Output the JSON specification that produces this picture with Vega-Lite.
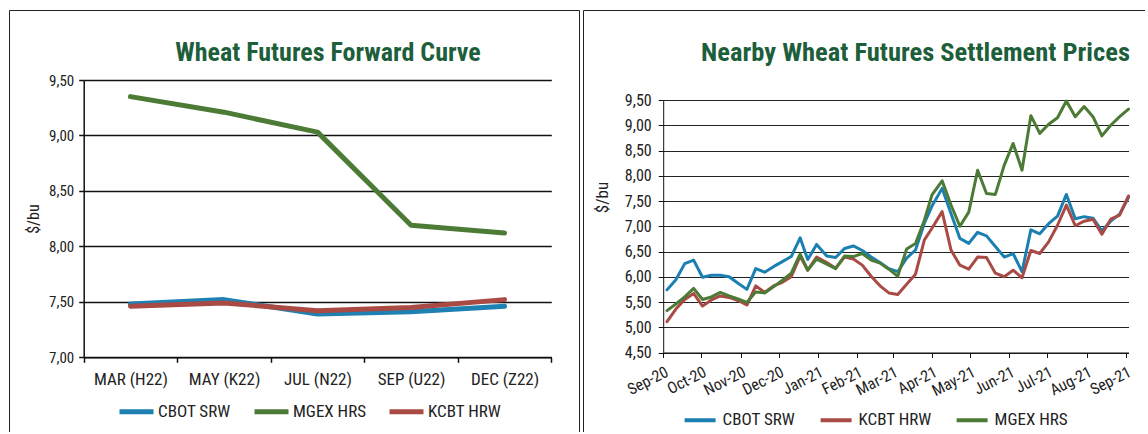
{
  "$schema": "https://vega.github.io/schema/vega-lite/v6.json",
  "padding": {"left": 8, "top": 9, "right": -14, "bottom": -9},
  "background": "white",
  "spacing": 2,
  "config": {
    "font": "Roboto Condensed, Liberation Sans Narrow, DejaVu Sans Condensed, Roboto, sans-serif",
    "view": {"stroke": "#222", "strokeWidth": 1},
    "axis": {"domainColor": "#111", "tickColor": "#111", "gridColor": "#111", "labelColor": "#222", "titleColor": "#222", "titleFontWeight": "normal"},
    "legend": {"labelColor": "#222", "padding": 0}
  },
  "datasets": {
    "curve": [
      {"contract": "MAR (H22)", "series": "CBOT SRW", "price": 7.48},
      {"contract": "MAY (K22)", "series": "CBOT SRW", "price": 7.52},
      {"contract": "JUL (N22)", "series": "CBOT SRW", "price": 7.39},
      {"contract": "SEP (U22)", "series": "CBOT SRW", "price": 7.41},
      {"contract": "DEC (Z22)", "series": "CBOT SRW", "price": 7.46},
      {"contract": "MAR (H22)", "series": "MGEX HRS", "price": 9.35},
      {"contract": "MAY (K22)", "series": "MGEX HRS", "price": 9.21},
      {"contract": "JUL (N22)", "series": "MGEX HRS", "price": 9.03},
      {"contract": "SEP (U22)", "series": "MGEX HRS", "price": 8.19},
      {"contract": "DEC (Z22)", "series": "MGEX HRS", "price": 8.12},
      {"contract": "MAR (H22)", "series": "KCBT HRW", "price": 7.46},
      {"contract": "MAY (K22)", "series": "KCBT HRW", "price": 7.49},
      {"contract": "JUL (N22)", "series": "KCBT HRW", "price": 7.42},
      {"contract": "SEP (U22)", "series": "KCBT HRW", "price": 7.45},
      {"contract": "DEC (Z22)", "series": "KCBT HRW", "price": 7.52}
    ],
    "nearby": [
      {"date": "2020-09-04", "series": "CBOT SRW", "price": 5.74},
      {"date": "2020-09-11", "series": "CBOT SRW", "price": 5.94},
      {"date": "2020-09-18", "series": "CBOT SRW", "price": 6.26},
      {"date": "2020-09-25", "series": "CBOT SRW", "price": 6.33},
      {"date": "2020-10-02", "series": "CBOT SRW", "price": 5.99},
      {"date": "2020-10-09", "series": "CBOT SRW", "price": 6.03},
      {"date": "2020-10-16", "series": "CBOT SRW", "price": 6.03},
      {"date": "2020-10-23", "series": "CBOT SRW", "price": 6.00},
      {"date": "2020-10-30", "series": "CBOT SRW", "price": 5.87},
      {"date": "2020-11-06", "series": "CBOT SRW", "price": 5.75},
      {"date": "2020-11-13", "series": "CBOT SRW", "price": 6.16},
      {"date": "2020-11-20", "series": "CBOT SRW", "price": 6.09},
      {"date": "2020-11-27", "series": "CBOT SRW", "price": 6.20},
      {"date": "2020-12-04", "series": "CBOT SRW", "price": 6.30},
      {"date": "2020-12-11", "series": "CBOT SRW", "price": 6.40},
      {"date": "2020-12-18", "series": "CBOT SRW", "price": 6.77},
      {"date": "2020-12-24", "series": "CBOT SRW", "price": 6.34},
      {"date": "2020-12-31", "series": "CBOT SRW", "price": 6.64},
      {"date": "2021-01-08", "series": "CBOT SRW", "price": 6.41},
      {"date": "2021-01-15", "series": "CBOT SRW", "price": 6.38},
      {"date": "2021-01-22", "series": "CBOT SRW", "price": 6.56},
      {"date": "2021-01-29", "series": "CBOT SRW", "price": 6.61},
      {"date": "2021-02-05", "series": "CBOT SRW", "price": 6.52},
      {"date": "2021-02-12", "series": "CBOT SRW", "price": 6.39},
      {"date": "2021-02-19", "series": "CBOT SRW", "price": 6.28},
      {"date": "2021-02-26", "series": "CBOT SRW", "price": 6.16},
      {"date": "2021-03-05", "series": "CBOT SRW", "price": 6.10},
      {"date": "2021-03-12", "series": "CBOT SRW", "price": 6.37},
      {"date": "2021-03-19", "series": "CBOT SRW", "price": 6.53},
      {"date": "2021-03-26", "series": "CBOT SRW", "price": 7.06},
      {"date": "2021-04-01", "series": "CBOT SRW", "price": 7.40},
      {"date": "2021-04-09", "series": "CBOT SRW", "price": 7.75},
      {"date": "2021-04-16", "series": "CBOT SRW", "price": 7.25},
      {"date": "2021-04-23", "series": "CBOT SRW", "price": 6.76},
      {"date": "2021-04-30", "series": "CBOT SRW", "price": 6.66},
      {"date": "2021-05-07", "series": "CBOT SRW", "price": 6.88},
      {"date": "2021-05-14", "series": "CBOT SRW", "price": 6.81},
      {"date": "2021-05-21", "series": "CBOT SRW", "price": 6.60},
      {"date": "2021-05-28", "series": "CBOT SRW", "price": 6.39},
      {"date": "2021-06-04", "series": "CBOT SRW", "price": 6.46},
      {"date": "2021-06-11", "series": "CBOT SRW", "price": 6.10},
      {"date": "2021-06-18", "series": "CBOT SRW", "price": 6.93},
      {"date": "2021-06-25", "series": "CBOT SRW", "price": 6.85},
      {"date": "2021-07-02", "series": "CBOT SRW", "price": 7.05},
      {"date": "2021-07-09", "series": "CBOT SRW", "price": 7.20},
      {"date": "2021-07-16", "series": "CBOT SRW", "price": 7.63},
      {"date": "2021-07-23", "series": "CBOT SRW", "price": 7.15},
      {"date": "2021-07-30", "series": "CBOT SRW", "price": 7.19},
      {"date": "2021-08-06", "series": "CBOT SRW", "price": 7.16},
      {"date": "2021-08-13", "series": "CBOT SRW", "price": 6.91},
      {"date": "2021-08-20", "series": "CBOT SRW", "price": 7.10},
      {"date": "2021-08-27", "series": "CBOT SRW", "price": 7.24},
      {"date": "2021-09-03", "series": "CBOT SRW", "price": 7.57},
      {"date": "2020-09-04", "series": "KCBT HRW", "price": 5.11},
      {"date": "2020-09-11", "series": "KCBT HRW", "price": 5.36},
      {"date": "2020-09-18", "series": "KCBT HRW", "price": 5.55},
      {"date": "2020-09-25", "series": "KCBT HRW", "price": 5.67},
      {"date": "2020-10-02", "series": "KCBT HRW", "price": 5.42},
      {"date": "2020-10-09", "series": "KCBT HRW", "price": 5.54},
      {"date": "2020-10-16", "series": "KCBT HRW", "price": 5.62},
      {"date": "2020-10-23", "series": "KCBT HRW", "price": 5.59},
      {"date": "2020-10-30", "series": "KCBT HRW", "price": 5.53},
      {"date": "2020-11-06", "series": "KCBT HRW", "price": 5.44},
      {"date": "2020-11-13", "series": "KCBT HRW", "price": 5.82},
      {"date": "2020-11-20", "series": "KCBT HRW", "price": 5.69},
      {"date": "2020-11-27", "series": "KCBT HRW", "price": 5.82},
      {"date": "2020-12-04", "series": "KCBT HRW", "price": 5.89},
      {"date": "2020-12-11", "series": "KCBT HRW", "price": 6.00},
      {"date": "2020-12-18", "series": "KCBT HRW", "price": 6.41},
      {"date": "2020-12-24", "series": "KCBT HRW", "price": 6.13},
      {"date": "2020-12-31", "series": "KCBT HRW", "price": 6.39},
      {"date": "2021-01-08", "series": "KCBT HRW", "price": 6.28},
      {"date": "2021-01-15", "series": "KCBT HRW", "price": 6.17},
      {"date": "2021-01-22", "series": "KCBT HRW", "price": 6.39},
      {"date": "2021-01-29", "series": "KCBT HRW", "price": 6.35},
      {"date": "2021-02-05", "series": "KCBT HRW", "price": 6.23},
      {"date": "2021-02-12", "series": "KCBT HRW", "price": 6.01},
      {"date": "2021-02-19", "series": "KCBT HRW", "price": 5.82},
      {"date": "2021-02-26", "series": "KCBT HRW", "price": 5.68},
      {"date": "2021-03-05", "series": "KCBT HRW", "price": 5.65},
      {"date": "2021-03-12", "series": "KCBT HRW", "price": 5.85},
      {"date": "2021-03-19", "series": "KCBT HRW", "price": 6.05},
      {"date": "2021-03-26", "series": "KCBT HRW", "price": 6.73},
      {"date": "2021-04-01", "series": "KCBT HRW", "price": 6.96},
      {"date": "2021-04-09", "series": "KCBT HRW", "price": 7.29},
      {"date": "2021-04-16", "series": "KCBT HRW", "price": 6.53},
      {"date": "2021-04-23", "series": "KCBT HRW", "price": 6.23},
      {"date": "2021-04-30", "series": "KCBT HRW", "price": 6.15},
      {"date": "2021-05-07", "series": "KCBT HRW", "price": 6.39},
      {"date": "2021-05-14", "series": "KCBT HRW", "price": 6.38},
      {"date": "2021-05-21", "series": "KCBT HRW", "price": 6.07},
      {"date": "2021-05-28", "series": "KCBT HRW", "price": 6.00},
      {"date": "2021-06-04", "series": "KCBT HRW", "price": 6.13},
      {"date": "2021-06-11", "series": "KCBT HRW", "price": 5.98},
      {"date": "2021-06-18", "series": "KCBT HRW", "price": 6.52},
      {"date": "2021-06-25", "series": "KCBT HRW", "price": 6.46},
      {"date": "2021-07-02", "series": "KCBT HRW", "price": 6.69},
      {"date": "2021-07-09", "series": "KCBT HRW", "price": 7.02},
      {"date": "2021-07-16", "series": "KCBT HRW", "price": 7.42},
      {"date": "2021-07-23", "series": "KCBT HRW", "price": 7.01},
      {"date": "2021-07-30", "series": "KCBT HRW", "price": 7.10},
      {"date": "2021-08-06", "series": "KCBT HRW", "price": 7.14},
      {"date": "2021-08-13", "series": "KCBT HRW", "price": 6.84},
      {"date": "2021-08-20", "series": "KCBT HRW", "price": 7.14},
      {"date": "2021-08-27", "series": "KCBT HRW", "price": 7.22},
      {"date": "2021-09-03", "series": "KCBT HRW", "price": 7.60},
      {"date": "2020-09-04", "series": "MGEX HRS", "price": 5.33},
      {"date": "2020-09-11", "series": "MGEX HRS", "price": 5.46},
      {"date": "2020-09-18", "series": "MGEX HRS", "price": 5.60},
      {"date": "2020-09-25", "series": "MGEX HRS", "price": 5.77},
      {"date": "2020-10-02", "series": "MGEX HRS", "price": 5.55},
      {"date": "2020-10-09", "series": "MGEX HRS", "price": 5.60},
      {"date": "2020-10-16", "series": "MGEX HRS", "price": 5.69},
      {"date": "2020-10-23", "series": "MGEX HRS", "price": 5.62},
      {"date": "2020-10-30", "series": "MGEX HRS", "price": 5.56},
      {"date": "2020-11-06", "series": "MGEX HRS", "price": 5.49},
      {"date": "2020-11-13", "series": "MGEX HRS", "price": 5.70},
      {"date": "2020-11-20", "series": "MGEX HRS", "price": 5.68},
      {"date": "2020-11-27", "series": "MGEX HRS", "price": 5.80},
      {"date": "2020-12-04", "series": "MGEX HRS", "price": 5.93},
      {"date": "2020-12-11", "series": "MGEX HRS", "price": 6.07},
      {"date": "2020-12-18", "series": "MGEX HRS", "price": 6.45},
      {"date": "2020-12-24", "series": "MGEX HRS", "price": 6.13},
      {"date": "2020-12-31", "series": "MGEX HRS", "price": 6.35},
      {"date": "2021-01-08", "series": "MGEX HRS", "price": 6.25},
      {"date": "2021-01-15", "series": "MGEX HRS", "price": 6.16},
      {"date": "2021-01-22", "series": "MGEX HRS", "price": 6.41},
      {"date": "2021-01-29", "series": "MGEX HRS", "price": 6.40},
      {"date": "2021-02-05", "series": "MGEX HRS", "price": 6.46},
      {"date": "2021-02-12", "series": "MGEX HRS", "price": 6.33},
      {"date": "2021-02-19", "series": "MGEX HRS", "price": 6.27},
      {"date": "2021-02-26", "series": "MGEX HRS", "price": 6.15},
      {"date": "2021-03-05", "series": "MGEX HRS", "price": 6.01},
      {"date": "2021-03-12", "series": "MGEX HRS", "price": 6.55},
      {"date": "2021-03-19", "series": "MGEX HRS", "price": 6.66},
      {"date": "2021-03-26", "series": "MGEX HRS", "price": 7.12},
      {"date": "2021-04-01", "series": "MGEX HRS", "price": 7.62},
      {"date": "2021-04-09", "series": "MGEX HRS", "price": 7.90},
      {"date": "2021-04-16", "series": "MGEX HRS", "price": 7.42},
      {"date": "2021-04-23", "series": "MGEX HRS", "price": 7.00},
      {"date": "2021-04-30", "series": "MGEX HRS", "price": 7.28},
      {"date": "2021-05-07", "series": "MGEX HRS", "price": 8.11},
      {"date": "2021-05-14", "series": "MGEX HRS", "price": 7.65},
      {"date": "2021-05-21", "series": "MGEX HRS", "price": 7.63},
      {"date": "2021-05-28", "series": "MGEX HRS", "price": 8.21},
      {"date": "2021-06-04", "series": "MGEX HRS", "price": 8.64},
      {"date": "2021-06-11", "series": "MGEX HRS", "price": 8.11},
      {"date": "2021-06-18", "series": "MGEX HRS", "price": 9.19},
      {"date": "2021-06-25", "series": "MGEX HRS", "price": 8.84},
      {"date": "2021-07-02", "series": "MGEX HRS", "price": 9.02},
      {"date": "2021-07-09", "series": "MGEX HRS", "price": 9.15},
      {"date": "2021-07-16", "series": "MGEX HRS", "price": 9.48},
      {"date": "2021-07-23", "series": "MGEX HRS", "price": 9.17},
      {"date": "2021-07-30", "series": "MGEX HRS", "price": 9.37},
      {"date": "2021-08-06", "series": "MGEX HRS", "price": 9.17},
      {"date": "2021-08-13", "series": "MGEX HRS", "price": 8.79},
      {"date": "2021-08-20", "series": "MGEX HRS", "price": 9.00},
      {"date": "2021-08-27", "series": "MGEX HRS", "price": 9.17},
      {"date": "2021-09-03", "series": "MGEX HRS", "price": 9.32}
    ]
  },
  "hconcat": [
    {
      "width": 570,
      "height": 430,
      "title": {"text": "Wheat Futures Forward Curve", "fontSize": 26, "fontWeight": "bold", "color": "#1d5e3b", "anchor": "middle", "dx": 34, "offset": -77, "baseline": "alphabetic"},
      "data": {"name": "curve"},
      "mark": {"type": "line", "strokeWidth": 5, "strokeCap": "round", "strokeJoin": "round"},
      "encoding": {
        "x": {
          "field": "contract", "type": "nominal",
          "sort": ["MAR (H22)", "MAY (K22)", "JUL (N22)", "SEP (U22)", "DEC (Z22)"],
          "scale": {"type": "band", "range": [74.7, 542.3], "paddingInner": 0, "paddingOuter": 0},
          "axis": {"title": null, "labelAngle": 0, "tickBand": "extent", "tickSize": 5, "labelPadding": 9, "labelFontSize": 17, "offset": -82.7, "grid": false, "domainWidth": 1.5, "tickWidth": 1.5}
        },
        "y": {
          "field": "price", "type": "quantitative",
          "scale": {"domain": [7, 9.5], "range": [347.3, 70], "nice": false, "zero": false},
          "axis": {"title": "$/bu", "titleFontSize": 16, "titleX": -42, "titleY": 208.6, "values": [7, 7.5, 8, 8.5, 9, 9.5], "labelExpr": "replace(format(datum.value, '.2f'), '.', ',')", "labelFontSize": 15, "offset": -74.7, "tickSize": 5, "labelPadding": 5, "gridWidth": 1.5, "domainWidth": 1.5, "tickWidth": 1.5}
        },
        "color": {
          "field": "series", "type": "nominal",
          "scale": {"domain": ["CBOT SRW", "MGEX HRS", "KCBT HRW"], "range": ["#1f80b2", "#4c7b36", "#a94a44"]},
          "legend": {"title": null, "orient": "none", "direction": "horizontal", "legendX": 108, "legendY": 382, "symbolType": "stroke", "symbolSize": 1156, "symbolStrokeWidth": 5, "labelOffset": 2, "columnPadding": 13, "labelFontSize": 17}
        }
      }
    },
    {
      "width": 575,
      "height": 430,
      "title": {"text": "Nearby Wheat Futures Settlement Prices", "fontSize": 26.5, "fontWeight": "bold", "color": "#1d5e3b", "anchor": "middle", "dx": 45, "offset": -77, "baseline": "alphabetic"},
      "data": {"name": "nearby"},
      "mark": {"type": "line", "strokeWidth": 3, "strokeCap": "round", "strokeJoin": "round"},
      "encoding": {
        "x": {
          "field": "date", "type": "temporal",
          "scale": {"type": "utc", "domain": [{"year": 2020, "month": 9, "date": 1, "utc": true}, {"year": 2021, "month": 9, "date": 3, "utc": true}], "range": [80.2, 545.5], "nice": false},
          "axis": {"title": null, "format": "%b-%y", "tickCount": {"interval": "month", "step": 1}, "labelAngle": -27, "labelAlign": "right", "labelBaseline": "top", "tickSize": 5, "labelPadding": 6, "labelFontSize": 16, "offset": -87.5, "grid": false, "labelOverlap": false}
        },
        "y": {
          "field": "price", "type": "quantitative",
          "scale": {"domain": [4.5, 9.5], "range": [342.5, 90], "nice": false, "zero": false},
          "axis": {"title": "$/bu", "titleFontSize": 17, "titleX": -52, "titleY": 187, "values": [4.5, 5, 5.5, 6, 6.5, 7, 7.5, 8, 8.5, 9, 9.5], "labelExpr": "replace(format(datum.value, '.2f'), '.', ',')", "labelFontSize": 16, "offset": -80.2, "tickSize": 5, "labelPadding": 7, "gridColor": "#222", "gridWidth": 1}
        },
        "color": {
          "field": "series", "type": "nominal",
          "scale": {"domain": ["CBOT SRW", "KCBT HRW", "MGEX HRS"], "range": ["#1b80b1", "#a94a44", "#4c7b36"]},
          "legend": {"title": null, "orient": "none", "direction": "horizontal", "legendX": 99.6, "legendY": 392.5, "symbolType": "stroke", "symbolSize": 961, "symbolStrokeWidth": 4, "labelOffset": 5, "columnPadding": 17, "labelFontSize": 17}
        }
      }
    }
  ],
  "resolve": {"scale": {"color": "independent"}, "legend": {"color": "independent"}}
}
